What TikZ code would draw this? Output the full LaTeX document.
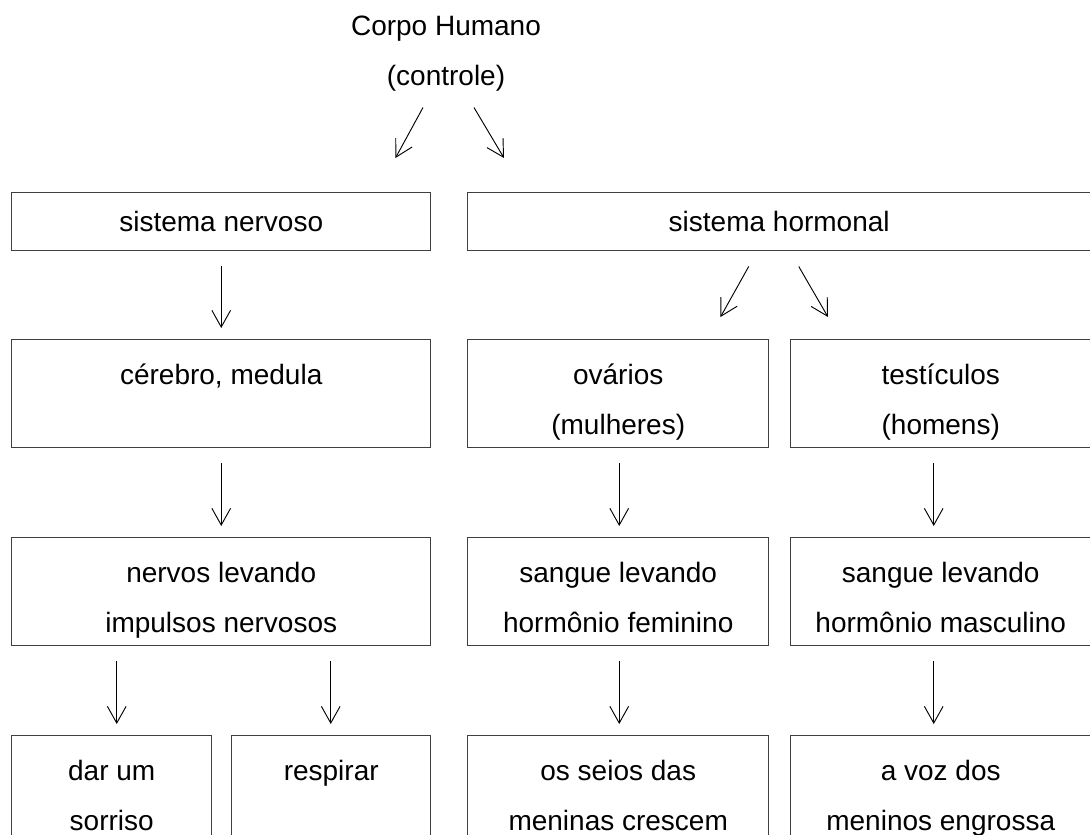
\documentclass[tikz,border=0pt]{standalone}
\usepackage{fontspec}
\setmainfont{Liberation Sans}
\usepackage{tikz}
\newcommand{\celltop}{\rule{0pt}{30.75pt}}
\newcommand{\cellbot}{\rule[-6.75pt]{0pt}{0pt}}
\tikzset{
    cellbox/.style={rectangle, draw=black!75, line width=1.1pt, anchor=north west, inner sep=3pt, align=center, font=\fontsize{21}{37.5}\selectfont},
    titletext/.style={inner sep=3pt, align=center, font=\fontsize{21}{37.5}\selectfont},
    flowarrow/.style={line width=0.7pt, -{Straight Barb[length=12.5pt, width=14pt]}}
}
\usetikzlibrary{arrows.meta,positioning,calc}

\begin{document}
\begin{tikzpicture}[x=0.75pt, y=-0.75pt]
    \useasboundingbox (0,0) rectangle (1090,835);
    % title
    \node[titletext, anchor=north] (corpo) at (446,-4) {\strut Corpo Humano\\\strut (controle)};
    % first row
    \node[cellbox, minimum width=314.25pt] (nervoso) at (11,192) {\strut sistema nervoso};
    \node[cellbox, minimum width=467.25pt] (hormonal) at (467,192) {\strut sistema hormonal};
    % second row
    \node[cellbox, minimum width=314.25pt] (cerebro) at (11,339) {\celltop cérebro, medula\\\cellbot};
    \node[cellbox, minimum width=225.75pt] (ovarios) at (467,339) {\celltop ovários\\\cellbot (mulheres)};
    \node[cellbox, minimum width=225pt] (testiculos) at (790,339) {\celltop testículos\\\cellbot (homens)};
    % third row
    \node[cellbox, minimum width=314.25pt] (nervos) at (11,537) {\celltop nervos levando\\\cellbot impulsos nervosos};
    \node[cellbox, minimum width=225.75pt] (sangfem) at (467,537) {\celltop sangue levando\\\cellbot hormônio feminino};
    \node[cellbox, minimum width=225pt] (sangmasc) at (790,537) {\celltop sangue levando\\\cellbot hormônio masculino};
    % fourth row
    \node[cellbox, minimum width=150pt] (sorriso) at (11,735) {\celltop dar um\\\cellbot sorriso};
    \node[cellbox, minimum width=149.25pt] (respirar) at (231,735) {\celltop respirar\\\cellbot};
    \node[cellbox, minimum width=225.75pt] (seios) at (467,735) {\celltop os seios das\\\cellbot meninas crescem};
    \node[cellbox, minimum width=225pt] (voz) at (790,735) {\celltop a voz dos\\\cellbot meninos engrossa};

    % branching arrows
    \draw[flowarrow] ($(corpo.south)+(-23,3)$) -- ($(nervoso.north east)+(-36,-34)$);
    \draw[flowarrow] ($(corpo.south)+(28,3)$) -- ($(hormonal.north west)+(37,-34)$);
    \draw[flowarrow] ($(hormonal.south)+(-30.5,15)$) -- ($(ovarios.north east)+(-49,-22)$);
    \draw[flowarrow] ($(hormonal.south)+(19.5,15)$) -- ($(testiculos.north west)+(38,-22)$);

    % straight arrows
    \foreach \src/\dst/\dx in {nervoso/cerebro/0, cerebro/nervos/0, ovarios/sangfem/1, sangfem/seios/1,
                               testiculos/sangmasc/-7, sangmasc/voz/-7, nervos/sorriso/-104.5, nervos/respirar/109.5}
        \draw[flowarrow, shorten <=11.25pt, shorten >=8.25pt] ($(\src.south)+(\dx,0)$) coordinate (s) -- (s |- \dst.north);
\end{tikzpicture}
\end{document}
